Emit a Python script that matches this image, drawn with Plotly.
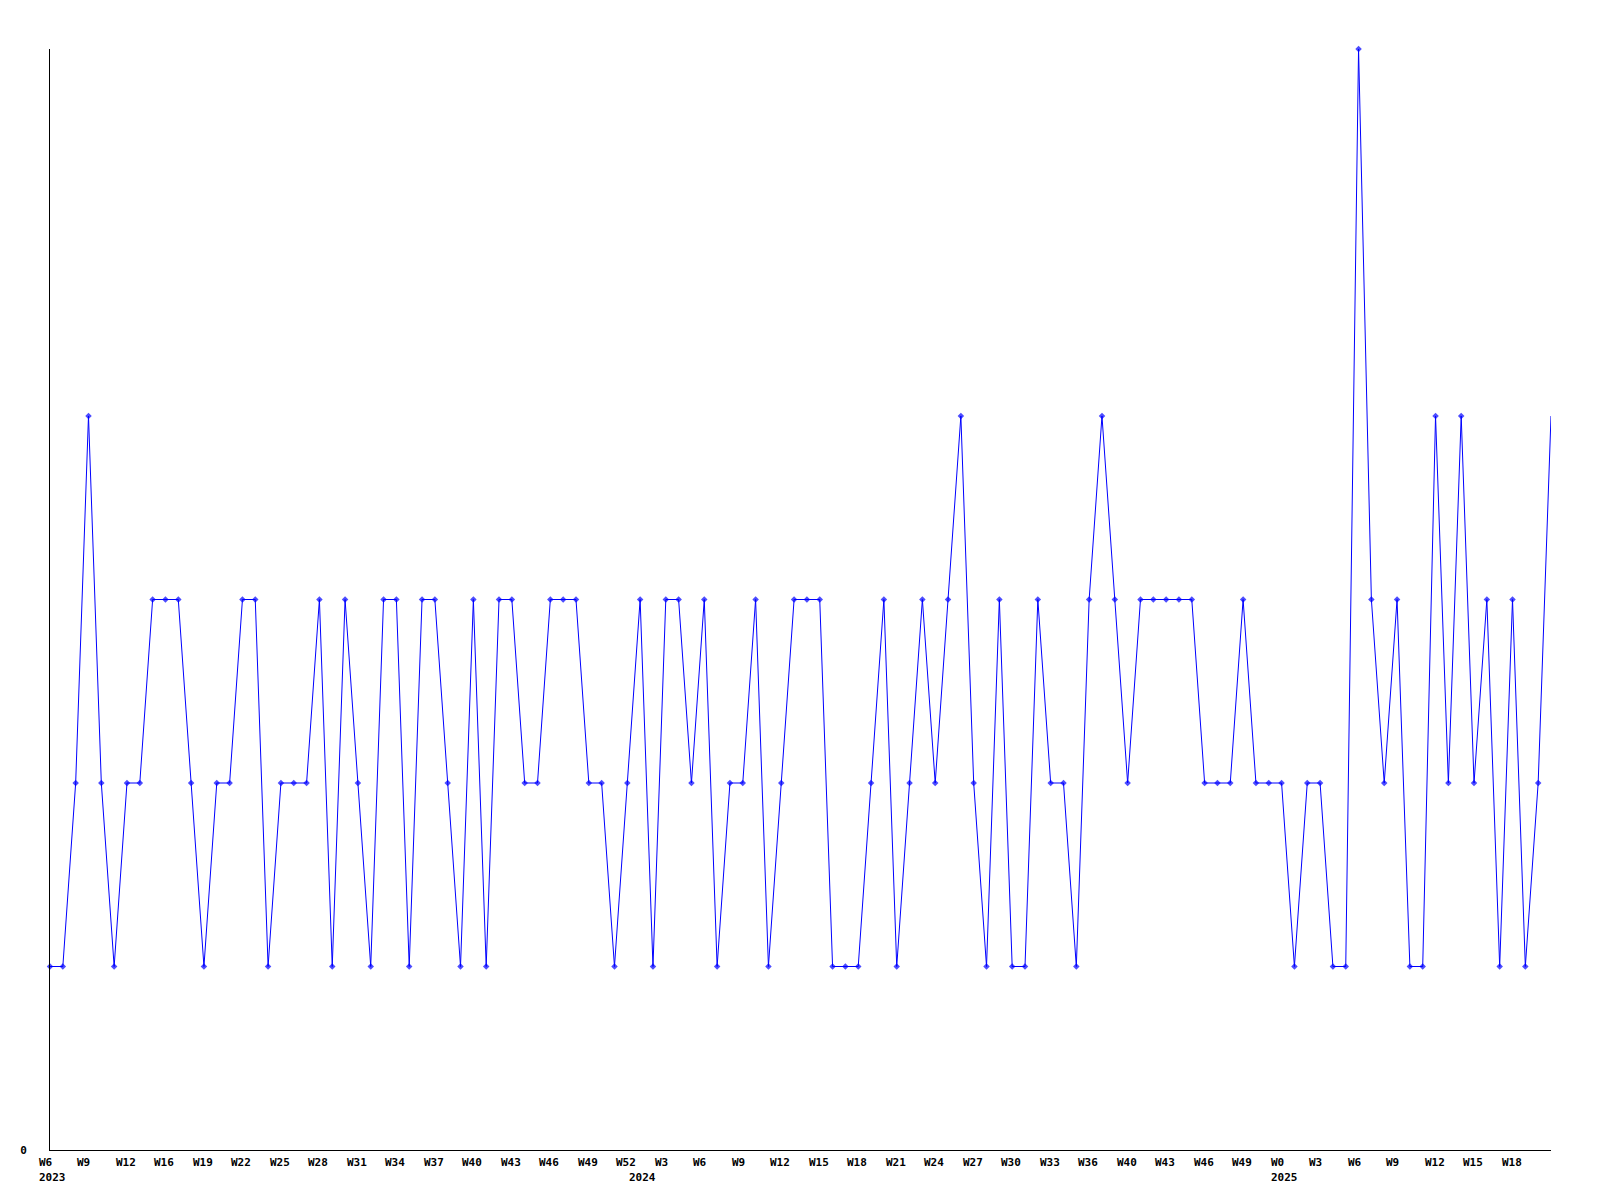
import plotly.graph_objects as go

# weekly values (118 consecutive weeks, starting 2023 W6)
values = [1, 1, 2, 4, 2, 1, 2, 2, 3, 3, 3, 2, 1, 2, 2, 3, 3, 1, 2, 2,
          2, 3, 1, 3, 2, 1, 3, 3, 1, 3, 3, 2, 1, 3, 1, 3, 3, 2, 2, 3,
          3, 3, 2, 2, 1, 2, 3, 1, 3, 3, 2, 3, 1, 2, 2, 3, 1, 2, 3, 3,
          3, 1, 1, 1, 2, 3, 1, 2, 3, 2, 3, 4, 2, 1, 3, 1, 1, 3, 2, 2,
          1, 3, 4, 3, 2, 3, 3, 3, 3, 3, 2, 2, 2, 3, 2, 2, 2, 1, 2, 2,
          1, 1, 6, 3, 2, 3, 1, 1, 4, 2, 4, 2, 3, 1, 3, 1, 2, 4]

# tick labels shown every third week
week_labels = ["W6", "W9", "W12", "W16", "W19", "W22", "W25", "W28", "W31", "W34",
               "W37", "W40", "W43", "W46", "W49", "W52", "W3", "W6", "W9", "W12",
               "W15", "W18", "W21", "W24", "W27", "W30", "W33", "W36", "W40", "W43",
               "W46", "W49", "W0", "W3", "W6", "W9", "W12", "W15", "W18"]
week_label_step = 3

year_labels = ["2023", "2024", "2025"]
year_positions = [0, 46, 96]

x = list(range(len(values)))
marker_sizes = [5] * (len(values) - 1) + [0]

fig = go.Figure()
fig.add_trace(go.Scatter(
    x=x, y=values, mode="lines+markers",
    line=dict(color="#0000ff", width=1),
    marker=dict(color="#0000ff", symbol="diamond", size=marker_sizes, line=dict(width=0)),
    hoverinfo="skip", showlegend=False, cliponaxis=False,
))

label_font = dict(family="DejaVu Sans Mono", size=11, color="#000000", weight="bold")

annotations = []
for i, lab in enumerate(week_labels):
    annotations.append(dict(
        x=x[i * week_label_step], y=0, xref="x", yref="paper",
        text=lab, showarrow=False, xanchor="left", yanchor="middle",
        xshift=-13, yshift=-12, font=label_font,
    ))
for lab, pos in zip(year_labels, year_positions):
    annotations.append(dict(
        x=x[pos], y=0, xref="x", yref="paper",
        text=lab, showarrow=False, xanchor="left", yanchor="middle",
        xshift=-13, yshift=-27, font=label_font,
    ))

fig.update_layout(
    width=1600, height=1200,
    margin=dict(l=42, r=57, t=41, b=58, pad=0, autoexpand=False),
    paper_bgcolor="white", plot_bgcolor="white",
    annotations=annotations,
    xaxis=dict(range=[0, len(values) - 1], showgrid=False, zeroline=False,
               showline=True, linecolor="black", linewidth=1,
               showticklabels=False, ticks="", automargin=False),
    yaxis=dict(range=[0, 6], showgrid=False, zeroline=False,
               showline=True, linecolor="black", linewidth=1,
               tickvals=[0], ticktext=["0"], ticks="",
               ticklabelstandoff=20, automargin=False,
               tickfont=label_font),
)

fig.write_html("out.html")
